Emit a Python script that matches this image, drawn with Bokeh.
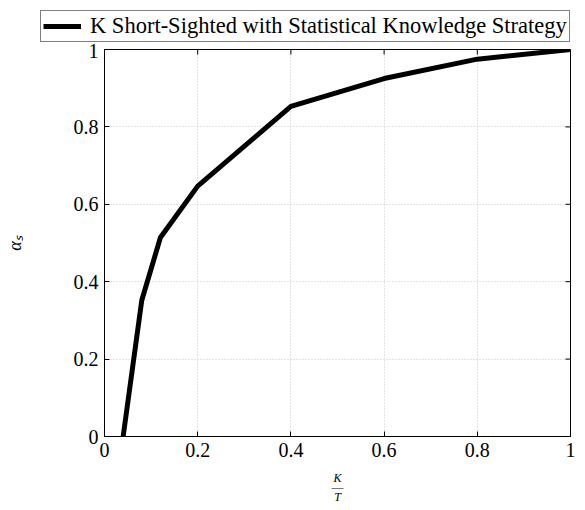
import math
from bokeh.plotting import figure
from bokeh.layouts import column
from bokeh.models import Legend, LegendItem, FixedTicker, Range1d
from bokeh.embed import file_html
from bokeh.resources import INLINE

# data
k_over_t = [0.04, 0.08, 0.12, 0.2, 0.4, 0.6, 0.8, 1.0]
alpha_s = [0.0, 0.352, 0.514, 0.647, 0.853, 0.925, 0.975, 1.0]
series_name = "K Short-Sighted with Statistical Knowledge Strategy"
x_ticks = [0, 0.2, 0.4, 0.6, 0.8, 1.0]
y_ticks = [0, 0.2, 0.4, 0.6, 0.8, 1.0]

FONT = "Liberation Serif"
W = 577

# ---- legend strip (own small figure above the chart) ----
top = figure(width=W, height=43, output_backend="svg", toolbar_location=None,
             x_range=Range1d(10, 11), y_range=Range1d(10, 11),
             min_border_left=0, min_border_right=0, min_border_top=0,
             min_border_bottom=0)
top.xaxis.visible = False
top.yaxis.visible = False
top.xgrid.visible = False
top.ygrid.visible = False
top.outline_line_color = None
r_leg = top.line(k_over_t, alpha_s, line_color="black", line_width=5)
legend = Legend(items=[LegendItem(label=series_name, renderers=[r_leg])],
                location=(40, 1), orientation="vertical",
                label_text_font=FONT, label_text_font_size="22.5px",
                label_text_color="black",
                border_line_color="black", border_line_width=1,
                padding=2, margin=0, glyph_width=38, label_standoff=9,
                spacing=0, background_fill_alpha=1)
top.add_layout(legend, "center")

# ---- main chart ----
p = figure(width=W, height=464, output_backend="svg", toolbar_location=None,
           x_range=Range1d(0, 1), y_range=Range1d(0, 1),
           min_border_left=104, min_border_right=7, min_border_top=6,
           min_border_bottom=60)

for fig in (top, p):
    if "frame_align" in type(fig).properties():
        fig.frame_align = False

def style_axis(ax, ticks):
    ax.ticker = FixedTicker(ticks=ticks)
    ax.major_tick_in = 5
    ax.major_tick_out = 0
    ax.minor_tick_line_color = None
    ax.axis_line_color = "black"
    ax.major_tick_line_color = "black"
    ax.major_label_text_font = FONT
    ax.major_label_text_font_size = "20px"
    ax.major_label_text_color = "black"
    ax.major_label_standoff = 6
    ax.major_label_overrides = {0: "0", 1: "1"}
    ax.axis_label_text_font = FONT
    ax.axis_label_text_font_style = "italic"
    ax.axis_label_text_color = "black"

bx = p.xaxis[0]; style_axis(bx, x_ticks)
bx.axis_label = "K\n\u2015\nT"
bx.axis_label_text_font_size = "12px"
bx.axis_label_text_line_height = 0.7
bx.axis_label_standoff = 11

ly = p.yaxis[0]; style_axis(ly, y_ticks)
ly.axis_label = "\u03b1\u209b"
ly.axis_label_text_font_size = "18px"
ly.axis_label_standoff = 46

p.xgrid.ticker = FixedTicker(ticks=x_ticks)
p.ygrid.ticker = FixedTicker(ticks=y_ticks)
for g in (p.xgrid, p.ygrid):
    g.grid_line_color = "#c8c8c8"
    g.grid_line_dash = "1 2"
    g.grid_line_width = 1

p.outline_line_color = "black"
p.outline_line_width = 1

# inward ticks on the top and right edges (half of each dash is clipped)
p.scatter(x=x_ticks, y=[y_ticks[-1]] * len(x_ticks), marker="dash",
          angle=math.pi / 2, size=10, line_color="black", line_width=1)
p.scatter(x=[x_ticks[-1]] * len(y_ticks), y=y_ticks, marker="dash",
          size=10, line_color="black", line_width=1)

p.line(k_over_t, alpha_s, line_color="black", line_width=5)

layout = column(top, p, spacing=0)
open("out.html", "w").write(file_html(layout, INLINE))
